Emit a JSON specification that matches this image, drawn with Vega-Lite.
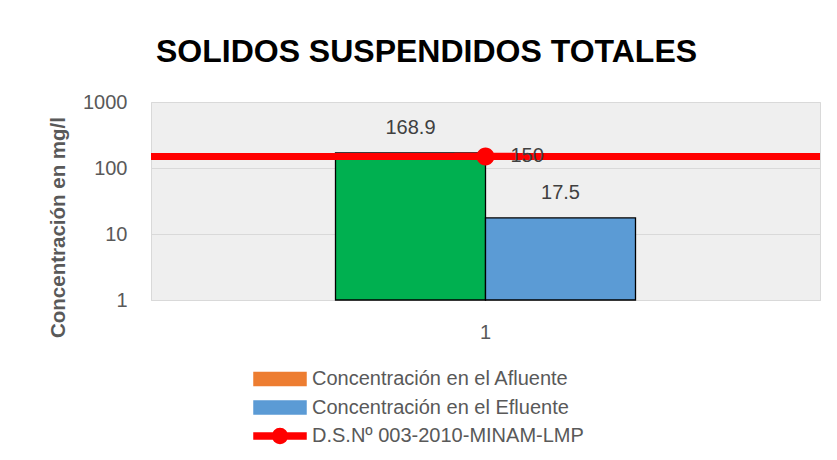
{
  "$schema": "https://vega.github.io/schema/vega-lite/v6.json",
  "autosize": {"type": "none"},
  "width": 669,
  "height": 198,
  "padding": {"left": 151, "top": 102, "right": 17, "bottom": 160},
  "background": "white",
  "title": {
    "text": "SOLIDOS SUSPENDIDOS TOTALES",
    "font": "Liberation Sans",
    "fontSize": 32,
    "fontWeight": "bold",
    "color": "#000000",
    "anchor": "middle",
    "frame": "group",
    "baseline": "alphabetic",
    "dx": -59,
    "offset": -2
  },
  "data": {
    "values": [
      {"cat": "1", "serie": "Concentración en el Afluente", "valor": 168.9},
      {"cat": "1", "serie": "Concentración en el Efluente", "valor": 17.5},
      {"cat": "1", "serie": "D.S.Nº 003-2010-MINAM-LMP", "valor": 150}
    ]
  },
  "encoding": {
    "y": {
      "field": "valor",
      "type": "quantitative",
      "stack": null,
      "scale": {"type": "log", "domain": [1, 1000], "nice": false},
      "axis": {
        "title": "Concentración en mg/l",
        "titleFont": "Liberation Sans",
        "titleFontSize": 20.5,
        "titleFontWeight": "bold",
        "titleColor": "#595959",
        "titleX": -93,
        "titleY": 125,
        "titleBaseline": "middle",
        "values": [1, 10, 100, 1000],
        "format": "d",
        "labelFont": "Liberation Sans",
        "labelFontSize": 20,
        "labelColor": "#595959",
        "labelPadding": 24,
        "ticks": false,
        "domain": false,
        "grid": true,
        "gridColor": "#D9D9D9",
        "gridWidth": 1
      }
    }
  },
  "layer": [
    {
      "transform": [{"filter": "datum.serie !== 'D.S.Nº 003-2010-MINAM-LMP'"}],
      "mark": {"type": "bar", "stroke": "#000000", "strokeWidth": 1.3, "opacity": 1},
      "encoding": {
        "x": {
          "field": "cat",
          "type": "nominal",
          "scale": {"paddingInner": 0, "paddingOuter": 0.615},
          "axis": {
            "title": null,
            "labelAngle": 0,
            "labelFont": "Liberation Sans",
            "labelFontSize": 20,
            "labelColor": "#595959",
            "labelPadding": 22,
            "ticks": false,
            "domainColor": "#D9D9D9",
            "grid": false
          }
        },
        "xOffset": {"field": "serie", "type": "nominal", "scale": {"paddingInner": 0, "paddingOuter": 0}},
        "color": {
          "condition": {"test": "datum.serie === 'Concentración en el Afluente'", "value": "#00B050"},
          "field": "serie",
          "type": "nominal",
          "scale": {
            "domain": ["Concentración en el Afluente", "Concentración en el Efluente", "D.S.Nº 003-2010-MINAM-LMP"],
            "range": ["#ED7D31", "#5B9BD5", "#FF0000"]
          },
          "legend": {
            "title": null,
            "orient": "none",
            "legendX": 115,
            "legendY": 263,
            "padding": 0,
            "labelFont": "Liberation Sans",
            "labelFontSize": 20,
            "labelColor": "#595959",
            "labelLimit": 500,
            "labelOffset": 18,
            "symbolSize": 676,
            "rowPadding": 4.5,
            "encode": {
              "symbols": {
                "update": {
                  "stroke": {"signal": "datum.value === 'Concentración en el Efluente' ? '#000000' : 'transparent'"},
                  "strokeWidth": {"value": 1.5},
                  "opacity": {"value": 1}
                }
              }
            }
          }
        }
      }
    },
    {
      "transform": [{"filter": "datum.serie !== 'D.S.Nº 003-2010-MINAM-LMP'"}],
      "mark": {"type": "text", "font": "Liberation Sans", "fontSize": 20, "color": "#404040", "baseline": "middle", "dy": -25},
      "encoding": {
        "x": {"field": "cat", "type": "nominal"},
        "xOffset": {"field": "serie", "type": "nominal"},
        "text": {"field": "valor", "type": "quantitative", "format": ".1f"}
      }
    },
    {
      "transform": [{"filter": "datum.serie === 'D.S.Nº 003-2010-MINAM-LMP'"}],
      "mark": {"type": "rule", "strokeWidth": 7},
      "encoding": {
        "color": {"field": "serie", "type": "nominal"}
      }
    },
    {
      "transform": [{"filter": "datum.serie === 'D.S.Nº 003-2010-MINAM-LMP'"}],
      "mark": {"type": "point", "filled": true, "opacity": 1, "size": 973},
      "encoding": {
        "x": {"field": "cat", "type": "nominal"},
        "color": {"field": "serie", "type": "nominal"},
        "shape": {
          "field": "serie",
          "type": "nominal",
          "scale": {
            "domain": ["Concentración en el Afluente", "Concentración en el Efluente", "D.S.Nº 003-2010-MINAM-LMP"],
            "range": [
              "M-2,-0.5H2V0.5H-2Z",
              "M-2,-0.5H2V0.5H-2Z",
              "M-2,-0.23H2V0.23H-2Z M0.577,0A0.577,0.577 0 1,1 -0.577,0A0.577,0.577 0 1,1 0.577,0Z"
            ]
          },
          "legend": {
            "title": null,
            "orient": "none",
            "legendX": 115,
            "legendY": 263,
            "padding": 0,
            "labelFont": "Liberation Sans",
            "labelFontSize": 20,
            "labelColor": "#595959",
            "labelLimit": 500,
            "labelOffset": 18,
            "symbolSize": 676,
            "rowPadding": 4.5,
            "encode": {
              "symbols": {
                "update": {
                  "stroke": {"signal": "datum.value === 'Concentración en el Efluente' ? '#000000' : 'transparent'"},
                  "strokeWidth": {"value": 1.5},
                  "opacity": {"value": 1}
                }
              }
            }
          }
        }
      }
    },
    {
      "transform": [{"filter": "datum.serie === 'D.S.Nº 003-2010-MINAM-LMP'"}],
      "mark": {"type": "text", "font": "Liberation Sans", "fontSize": 20, "color": "#404040", "baseline": "middle", "align": "left", "dx": 25},
      "encoding": {
        "x": {"field": "cat", "type": "nominal"},
        "text": {"field": "valor", "type": "quantitative", "format": "d"}
      }
    }
  ],
  "config": {
    "view": {"fill": "#EFEFEF", "stroke": "#D9D9D9"}
  }
}
